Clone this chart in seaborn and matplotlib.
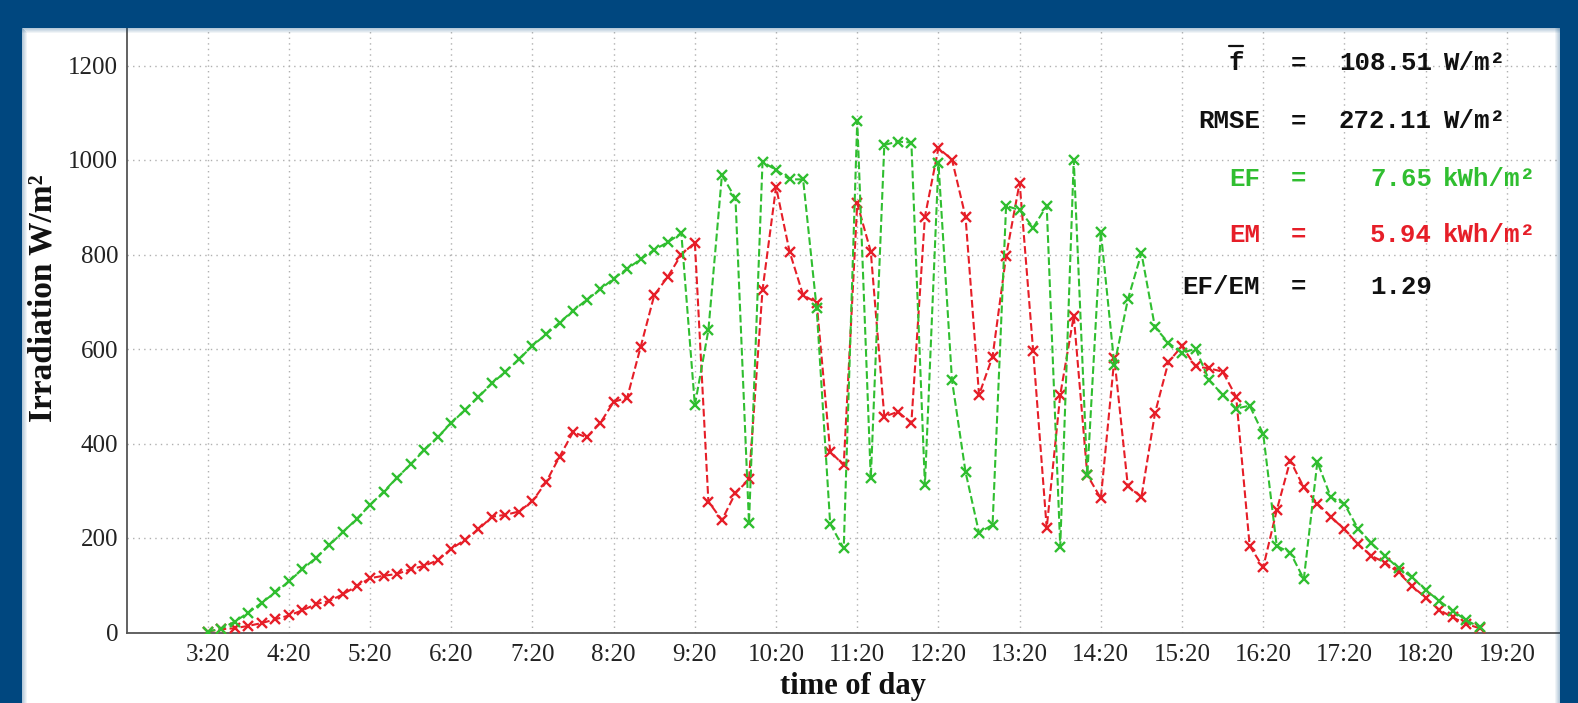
import matplotlib
matplotlib.use("Agg")
import matplotlib.pyplot as plt
from matplotlib.patches import Rectangle
from matplotlib.lines import Line2D
import seaborn as sns
import pandas as pd

# ---------------- data ----------------
times = ["3:20", "3:30", "3:40", "3:50",
         "4:00", "4:10", "4:20", "4:30", "4:40", "4:50",
         "5:00", "5:10", "5:20", "5:30", "5:40", "5:50",
         "6:00", "6:10", "6:20", "6:30", "6:40", "6:50",
         "7:00", "7:10", "7:20", "7:30", "7:40", "7:50",
         "8:00", "8:10", "8:20", "8:30", "8:40", "8:50",
         "9:00", "9:10", "9:20", "9:30", "9:40", "9:50",
         "10:00", "10:10", "10:20", "10:30", "10:40", "10:50",
         "11:00", "11:10", "11:20", "11:30", "11:40", "11:50",
         "12:00", "12:10", "12:20", "12:30", "12:40", "12:50",
         "13:00", "13:10", "13:20", "13:30", "13:40", "13:50",
         "14:00", "14:10", "14:20", "14:30", "14:40", "14:50",
         "15:00", "15:10", "15:20", "15:30", "15:40", "15:50",
         "16:00", "16:10", "16:20", "16:30", "16:40", "16:50",
         "17:00", "17:10", "17:20", "17:30", "17:40", "17:50",
         "18:00", "18:10", "18:20", "18:30", "18:40", "18:50",
         "19:00"]

forecast = [2, 8, 23, 42, 63, 85, 108, 134, 158, 185,
            213, 240, 270, 298, 328, 356, 386, 414, 443, 471,
            498, 527, 552, 578, 607, 631, 656, 681, 704, 726,
            749, 770, 790, 810, 826, 845, 481, 640, 968, 919,
            232, 996, 979, 959, 959, 686, 230, 178, 1083, 326,
            1032, 1039, 1037, 312, 993, 534, 340, 211, 228, 903,
            894, 857, 903, 182, 1000, 333, 848, 566, 705, 803,
            646, 613, 591, 601, 534, 503, 474, 480, 420, 183,
            169, 113, 361, 286, 272, 220, 189, 162, 136, 117,
            90, 67, 46, 26, 11]

measured = [2, 7, 9, 14, 20, 28, 36, 47, 60, 67,
            81, 98, 115, 120, 124, 134, 141, 153, 177, 196,
            218, 245, 249, 256, 278, 318, 372, 424, 413, 443,
            488, 497, 605, 714, 753, 800, 825, 277, 238, 295,
            324, 725, 943, 806, 714, 698, 383, 354, 908, 806,
            457, 467, 444, 880, 1025, 1001, 880, 503, 584, 797,
            952, 596, 221, 503, 670, 333, 284, 580, 309, 287,
            464, 573, 606, 563, 559, 552, 499, 183, 138, 259,
            364, 307, 273, 245, 218, 187, 162, 148, 127, 98,
            74, 48, 32, 18, 9]

xtick_labels = ["3:20", "4:20", "5:20", "6:20", "7:20", "8:20", "9:20",
                "10:20", "11:20", "12:20", "13:20", "14:20", "15:20",
                "16:20", "17:20", "18:20", "19:20"]
ytick_values = [0, 200, 400, 600, 800, 1000, 1200]

stat_labels = ["f", "RMSE", "EF", "EM", "EF/EM"]
stat_values = ["108.51", "272.11", "7.65", "5.94", "1.29"]
stat_units = ["W/m²", "W/m²", "kWh/m²", "kWh/m²", ""]


def to_min(s):
    h, m = s.split(":")
    return int(h) * 60 + int(m)


# ---------------- style ----------------
GREEN = "#30BE30"
RED = "#E61E28"
BLUE = "#00477F"
W, H = 1578, 703

sns.set_theme(style="white")
plt.rcParams["font.family"] = ["Liberation Serif", "DejaVu Serif"]

fig = plt.figure(figsize=(W / 100, H / 100), dpi=100, facecolor=BLUE)

# white panel behind the axes
fig.add_artist(Rectangle((22 / W, 0), (1560 - 22) / W, (H - 28) / H,
                         transform=fig.transFigure, facecolor="white",
                         edgecolor="none", zorder=-5))

ax = fig.add_axes([126.5 / W, 70.5 / H, 1461.5 / W, 661.5 / H])
ax.set_facecolor("white")

df = pd.DataFrame({"t": [to_min(t) for t in times],
                   "EF": forecast, "EM": measured})

line_kw = dict(linestyle="--", dashes=(3.5, 2.2), linewidth=1.5, marker="x",
               markersize=6.5, markeredgewidth=1.7)
sns.lineplot(data=df, x="t", y="EM", ax=ax, color=RED,
             markeredgecolor=RED, zorder=3, **line_kw)
sns.lineplot(data=df, x="t", y="EF", ax=ax, color=GREEN,
             markeredgecolor=GREEN, zorder=4, **line_kw)

ax.set_xlim(to_min("2:20"), to_min("20:20"))
ax.set_ylim(0, 1400)
ax.set_xticks([to_min(s) for s in xtick_labels])
ax.set_xticklabels(xtick_labels)
ax.set_yticks(ytick_values)
ax.set_yticklabels([str(v) for v in ytick_values])

ax.grid(True, linestyle=(0, (1, 3)), color="#b0b0b0", linewidth=1.0)
ax.set_axisbelow(True)
for side in ["top", "right"]:
    ax.spines[side].set_visible(False)
for side in ["left", "bottom"]:
    ax.spines[side].set_color("#555555")
    ax.spines[side].set_linewidth(1.3)

ax.tick_params(axis="both", direction="in", length=10, width=1.2,
               color="#555555", labelsize=18, labelcolor="#222222")
ax.tick_params(axis="x", pad=8)
ax.tick_params(axis="y", pad=6)

ax.set_xlabel("time of day", fontsize=22, fontweight="bold", color="#111111",
              va="bottom")
ax.set_ylabel("Irradiation W/m²", fontsize=24, fontweight="bold",
              color="#111111", va="center")
ax.xaxis.set_label_coords(0.497, (70.5 - 68.5) / 661.5 - 70.5 / 661.5)
ax.yaxis.set_label_coords((43 - 126.5) / 1461.5, (632.5 - 298) / 661.5)

# ---------------- statistics text ----------------
row_y = [65, 123, 180, 236, 288]
row_col = ["#111111", "#111111", GREEN, RED, "#111111"]
mono = dict(family=["Liberation Mono", "DejaVu Sans Mono"], fontsize=18.5,
            fontweight="bold", va="center")
for lab, val, unit, y, c in zip(stat_labels, stat_values, stat_units, row_y, row_col):
    fy = 1 - (y - 1.5) / H
    if lab == "f":
        fig.text(1236 / W, fy, lab, ha="center", color=c, **mono)
    else:
        fig.text(1260 / W, fy, lab, ha="right", color=c, **mono)
    fig.text(1298 / W, fy, "=", ha="center", color=c, **mono)
    fig.text(1432 / W, fy, val, ha="right", color=c, **mono)
    if unit:
        fig.text(1443 / W, fy, unit, ha="left", color=c, **mono)

# overline on f
fig.add_artist(Line2D([1229 / W, 1243 / W], [1 - 46 / H, 1 - 46 / H],
                      transform=fig.transFigure, color="#111111",
                      linewidth=1.6, zorder=6))

# ---------------- blue frame on top ----------------
for (x0, y0, w, h) in [(0, H - 28, W, 28), (1560, 0, W - 1560, H), (0, 0, 22, H)]:
    fig.add_artist(Rectangle((x0 / W, y0 / H), w / W, h / H,
                             transform=fig.transFigure, facecolor=BLUE,
                             edgecolor="none", zorder=10))
# soft glow at panel edges
for k in range(1, 6):
    a = 0.35 * (1 - k / 6)
    fig.add_artist(Rectangle(((22 + k - 1) / W, 0), 1 / W, (H - 28 - k + 1) / H,
                             transform=fig.transFigure, facecolor=BLUE,
                             alpha=a, edgecolor="none", zorder=10))
    fig.add_artist(Rectangle((22 / W, (H - 28 - k) / H), (1560 - 22) / W, 1 / H,
                             transform=fig.transFigure, facecolor=BLUE,
                             alpha=a, edgecolor="none", zorder=10))
    fig.add_artist(Rectangle(((1560 - k) / W, 0), 1 / W, (H - 28) / H,
                             transform=fig.transFigure, facecolor=BLUE,
                             alpha=a, edgecolor="none", zorder=10))

fig.savefig("out.png", dpi=100, facecolor=BLUE)
